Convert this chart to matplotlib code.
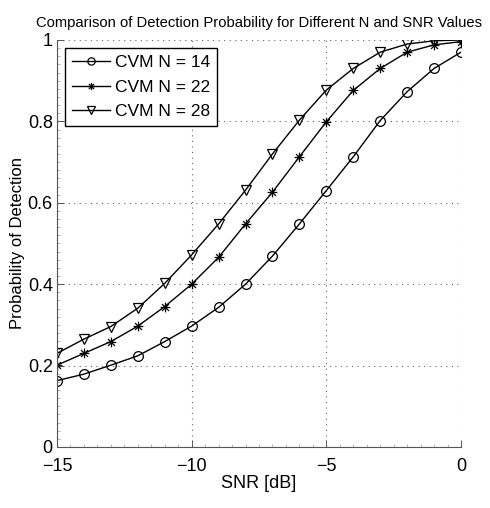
import matplotlib
matplotlib.use("Agg")
import matplotlib.pyplot as plt
from matplotlib.path import Path
from matplotlib.ticker import MultipleLocator

font = ['Liberation Sans', 'DejaVu Sans']
plt.rcParams['font.family'] = font

snr = list(range(-15, 1))
pd_n14 = [0.163, 0.179, 0.201, 0.224, 0.259, 0.297, 0.343, 0.400,
          0.469, 0.548, 0.630, 0.713, 0.802, 0.873, 0.930, 0.970]
pd_n22 = [0.201, 0.230, 0.259, 0.297, 0.345, 0.400, 0.466, 0.548,
          0.626, 0.713, 0.799, 0.876, 0.930, 0.970, 0.988, 0.996]
pd_n28 = [0.230, 0.265, 0.296, 0.341, 0.402, 0.472, 0.548, 0.631,
          0.720, 0.803, 0.877, 0.930, 0.970, 0.990, 0.998, 1.000]
labels = ['CVM N = 14', 'CVM N = 22', 'CVM N = 28']

# matlab style asterisk: 4 crossing strokes
d = 0.707
asterisk = Path([(-1, 0), (1, 0), (0, -1), (0, 1), (-d, -d), (d, d), (-d, d), (d, -d)],
                [Path.MOVETO, Path.LINETO] * 4)
markers = ['o', asterisk, 'v']
sizes = [7, 7, 7.5]

fig = plt.figure(figsize=(4.9, 5.08), dpi=100)
ax = fig.add_axes([0.1163, 0.1201, 0.8245, 0.8012])

for y, lab, m, ms in zip([pd_n14, pd_n22, pd_n28], labels, markers, sizes):
    ax.plot(snr, y, color='black', lw=1.0, marker=m, markersize=ms,
            markerfacecolor='none', markeredgecolor='black',
            markeredgewidth=0.9, label=lab)

ax.set_xlim(-15, 0)
ax.set_ylim(0, 1)
ax.set_xticks([-15, -10, -5, 0])
ax.set_xticklabels(['\u221215', '\u221210', '\u22125', '0'])
ax.set_yticks([0, 0.2, 0.4, 0.6, 0.8, 1])
ax.set_yticklabels(['0', '0.2', '0.4', '0.6', '0.8', '1'])
ax.xaxis.set_minor_locator(MultipleLocator(0.5))
ax.yaxis.set_minor_locator(MultipleLocator(0.02))
ax.tick_params(which='major', direction='in', length=5, width=0.7,
               color='#555555', labelsize=13)
ax.tick_params(axis='x', which='major', pad=8)
ax.tick_params(axis='y', which='major', pad=3)
ax.tick_params(which='minor', direction='in', length=2, width=0.5,
               color='#999999')

ax.grid(True, which='major', linestyle=(0, (1, 4)), color='#666666', lw=0.8)
ax.spines['top'].set_visible(False)
ax.spines['right'].set_visible(False)
ax.spines['left'].set_color('#555555')
ax.spines['bottom'].set_color('#555555')

ax.set_title('Comparison of Detection Probability for Different N and SNR Values',
             fontsize=10.6, pad=9)
ax.set_xlabel('SNR [dB]', fontsize=13, labelpad=0)
ax.set_ylabel('Probability of Detection', fontsize=12, labelpad=2)

leg = ax.legend(loc='upper left', prop={'size': 12.5},
                frameon=True, fancybox=False, edgecolor='black',
                framealpha=1, markerscale=0.75,
                handlelength=2.2, handletextpad=0.3, borderpad=0.4,
                labelspacing=0.55, borderaxespad=0.45)
leg.get_frame().set_linewidth(1.0)

fig.savefig('out.png', dpi=100)
